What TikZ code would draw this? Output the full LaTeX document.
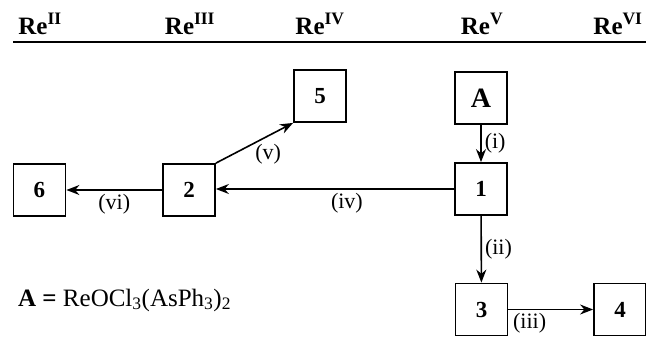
\documentclass[tikz,border=0pt]{standalone}
\usepackage{fontspec}
\setmainfont{Liberation Serif}
\usetikzlibrary{arrows.meta}
\begin{document}
\begin{tikzpicture}[x=1pt,y=-1pt,
  box/.style={draw,line width=1.8pt,minimum width=52pt,minimum height=52pt,inner sep=0pt,
    font=\fontsize{23}{23}\selectfont\bfseries},
  rx/.style={-{Stealth[length=13pt,width=10pt]},line width=1.6pt},
  lab/.style={font=\fontsize{22}{22}\selectfont,inner sep=3pt},
  hdr/.style={font=\fontsize{25}{25}\selectfont\bfseries,anchor=base,inner sep=0pt}]
\useasboundingbox (0,0) rectangle (646,343);
% header
\node[hdr] (h2) at (40,34) {Re\textsuperscript{II}};
\node[hdr] (h3) at (190,34) {Re\textsuperscript{III}};
\node[hdr] (h4) at (320,34) {Re\textsuperscript{IV}};
\node[hdr] (h5) at (482,34) {Re\textsuperscript{V}};
\node[hdr] (h6) at (618,34) {Re\textsuperscript{VI}};
\coordinate (r1) at (13,42);
\coordinate (r2) at (646,42);
\draw[line width=2.2pt] (r1) -- (r2);
% boxes
\node[box,font=\fontsize{28}{28}\selectfont\bfseries] (A) at (481,98) {A};
\node[box] (n1) at (481,189) {1};
\node[box] (n2) at (189,190) {2};
\node[box] (n6) at (39.5,190) {6};
\node[box] (n5) at (320,96) {5};
\node[box] (n3) at (481.5,309.5) {3};
\node[box] (n4) at (620,309.5) {4};
% arrows
\draw[rx] (A) -- node[lab,right] {(i)} (n1);
\draw[rx] (n1.west) -- node[lab,below,pos=0.45] {(iv)} (n2.east |- n1.west);
\draw[rx] (n2) -- node[lab,below] {(vi)} (n6);
\draw[rx] (n2.north east) -- node[lab,below right,pos=0.5,inner sep=0pt] {(v)} (n5.south west);
\draw[rx] (n1) -- node[lab,right] {(ii)} (n3);
\draw[rx] (n3) -- node[lab,below,pos=0.25] {(iii)} (n4);
% legend
\node[anchor=base west,inner sep=0pt,font=\fontsize{25}{25}\selectfont] (leg) at (18,306)
  {\textbf{A =} ReOCl\textsubscript{3}(AsPh\textsubscript{3})\textsubscript{2}};
\end{tikzpicture}
\end{document}
